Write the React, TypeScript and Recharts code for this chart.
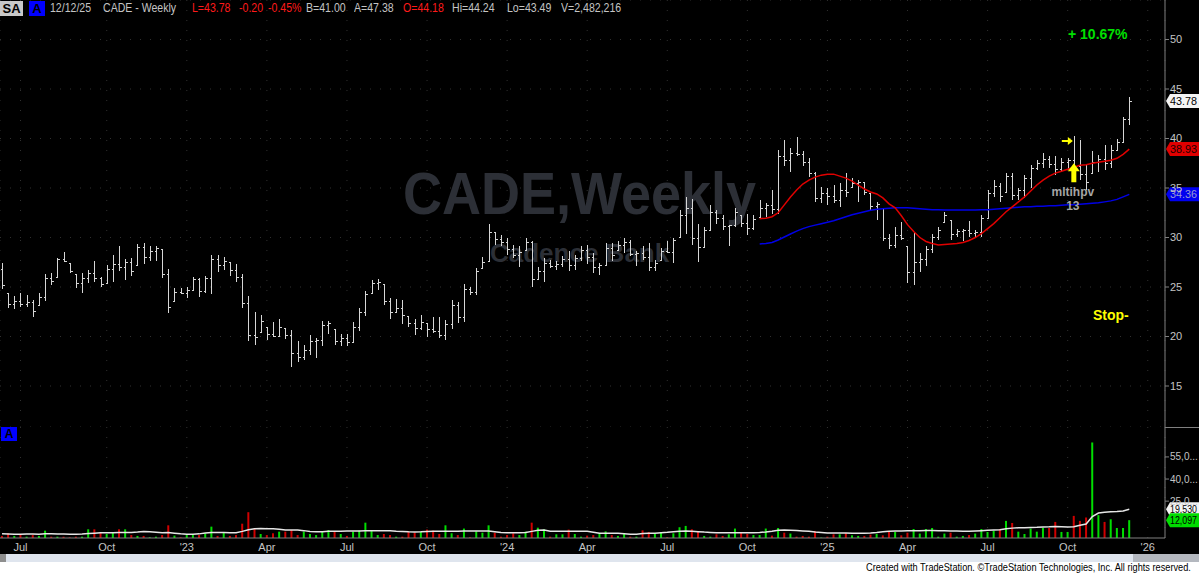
import React from "react";
import {
  ComposedChart,
  Bar,
  Line,
  XAxis,
  YAxis,
  CartesianGrid,
  ReferenceLine,
  ReferenceDot,
  Cell,
} from "recharts";

// weekly bars, 2022-06-10 .. 2025-12-12 (one entry per week)
const highs = [
  27.4, 24.4, 24.1, 24.4, 24.2, 23.7, 24.35, 26.3, 26.4, 27.9,
  28.5, 27.4, 26.3, 26.4, 26.7, 27.6, 26.05, 27.2, 28.2, 29.1,
  27.8, 27.9, 29.3, 29.4, 29.1, 29.1, 28.8, 26.8, 24.9, 24.9,
  25.0, 26.05, 25.9, 26.15, 28.2, 28.2, 28.0, 27.5, 27.3, 26.3,
  24.1, 22.5, 22.2, 21.0, 21.5, 21.8, 20.9, 20.7, 19.5, 19.1,
  20.2, 19.8, 21.6, 21.6, 20.8, 20.3, 20.3, 21.5, 22.9, 24.6,
  25.7, 25.8, 25.3, 23.9, 23.8, 23.7, 22.1, 21.8, 22.2, 21.4,
  22.0, 22.0, 21.7, 23.7, 23.5, 25.3, 25.0, 26.9, 28.0, 31.4,
  30.6, 30.3, 30.0, 29.2, 29.1, 29.9, 29.6, 27.0, 27.9, 27.7,
  27.6, 28.1, 28.6, 28.2, 29.1, 29.2, 28.4, 27.4, 29.4, 29.4,
  29.6, 29.9, 29.75, 28.6, 29.1, 29.4, 27.7, 28.9, 29.6, 29.9,
  32.8, 34.1, 33.9, 31.4, 31.1, 33.3, 32.8, 32.3, 31.3, 33.0,
  32.3, 32.4, 32.3, 33.8, 33.45, 34.8, 38.8, 39.85, 39.0, 40.2,
  38.7, 38.0, 36.65, 35.1, 35.0, 35.3, 35.5, 36.55, 36.0, 35.8,
  35.6, 34.5, 33.6, 33.0, 30.4, 31.1, 31.6, 29.1, 30.6, 28.4,
  29.1, 30.4, 31.1, 32.6, 31.8, 30.9, 30.9, 31.7, 30.8, 32.3,
  34.8, 35.8, 35.5, 36.55, 36.55, 35.0, 36.3, 37.3, 37.8, 38.5,
  38.2, 38.2, 38.0, 38.0, 40.25, 39.85, 37.3, 38.7, 38.3, 39.3,
  39.3, 40.0, 42.2, 44.24,
];

const lows = [
  24.8, 22.85, 22.75, 23.0, 22.95, 21.95, 23.15, 23.6, 25.2, 26.05,
  27.5, 26.4, 24.9, 24.4, 25.4, 25.5, 24.97, 25.4, 25.5, 26.65,
  25.7, 26.15, 27.2, 27.3, 27.6, 27.6, 25.9, 22.4, 23.6, 24.3,
  23.9, 24.7, 24.0, 24.4, 24.3, 26.5, 26.7, 26.15, 25.5, 22.9,
  19.5, 19.1, 20.5, 19.6, 20.0, 20.0, 19.7, 16.9, 17.4, 17.6,
  18.1, 17.8, 19.0, 20.3, 19.1, 19.0, 19.0, 19.4, 20.6, 22.1,
  24.4, 24.7, 23.2, 21.8, 22.4, 21.3, 21.0, 20.15, 20.7, 20.0,
  20.4, 19.8, 19.65, 20.8, 21.4, 21.5, 24.2, 24.2, 26.9, 27.6,
  29.2, 29.1, 28.2, 27.9, 27.0, 28.7, 25.0, 25.7, 25.5, 26.9,
  26.7, 27.0, 26.6, 26.7, 27.6, 27.3, 26.45, 26.2, 27.1, 27.6,
  28.7, 28.4, 28.1, 27.1, 27.7, 26.6, 26.6, 27.7, 28.4, 27.4,
  30.1, 30.4, 29.2, 27.5, 28.9, 30.8, 31.4, 30.8, 29.1, 31.1,
  31.1, 30.25, 30.8, 32.1, 32.1, 32.4, 32.4, 37.2, 36.65, 38.2,
  37.2, 36.15, 33.6, 33.45, 33.3, 33.45, 33.05, 34.1, 35.1, 33.6,
  34.3, 32.8, 31.8, 29.6, 28.8, 28.9, 29.75, 25.4, 25.2, 26.55,
  27.1, 28.4, 29.75, 31.6, 29.75, 30.1, 29.6, 30.1, 30.0, 30.1,
  31.9, 34.1, 33.6, 34.6, 33.8, 33.8, 34.0, 35.0, 36.8, 37.0,
  37.0, 36.3, 36.65, 36.8, 36.8, 35.8, 34.8, 36.5, 36.65, 36.8,
  37.0, 38.7, 39.5, 41.4,
];

const opens = [
  26.8, 24.4, 23.3, 23.6, 23.3, 23.5, 23.15, 24.0, 25.9, 26.05,
  27.8, 27.4, 26.3, 25.4, 25.9, 26.4, 25.9, 25.4, 26.8, 27.3,
  27.0, 27.5, 27.2, 29.0, 28.0, 28.6, 28.8, 26.3, 23.6, 24.5,
  24.4, 24.7, 25.8, 24.6, 25.9, 27.8, 27.2, 27.5, 26.7, 26.0,
  23.4, 20.2, 20.5, 21.0, 20.3, 20.1, 20.9, 20.2, 18.3, 17.9,
  18.6, 19.5, 19.6, 21.2, 20.8, 19.5, 19.8, 19.4, 21.0, 22.5,
  24.4, 25.4, 25.3, 23.6, 22.5, 22.9, 22.1, 21.4, 20.9, 21.4,
  20.8, 20.6, 20.2, 21.3, 23.2, 22.0, 24.8, 24.5, 26.9, 27.6,
  30.6, 29.8, 29.5, 28.8, 28.2, 28.7, 29.5, 25.8, 26.6, 27.4,
  27.1, 27.3, 27.8, 27.2, 27.9, 28.7, 28.0, 27.0, 27.2, 28.9,
  28.7, 29.2, 29.5, 28.3, 28.4, 28.0, 27.0, 27.7, 28.6, 28.5,
  30.1, 32.3, 33.0, 30.0, 29.0, 30.8, 32.6, 32.0, 31.2, 31.25,
  32.3, 31.5, 31.0, 32.1, 33.0, 33.3, 32.9, 38.2, 37.8, 38.5,
  38.4, 37.6, 36.5, 34.0, 34.5, 34.2, 33.8, 34.8, 35.1, 35.5,
  35.6, 34.5, 33.2, 33.0, 30.0, 29.2, 30.3, 29.1, 26.5, 27.5,
  27.8, 28.8, 30.1, 31.6, 31.8, 30.4, 30.7, 30.75, 30.5, 30.6,
  32.0, 34.5, 35.2, 34.6, 36.2, 34.3, 34.8, 36.0, 37.0, 37.5,
  37.9, 37.4, 36.9, 37.6, 37.8, 37.2, 36.4, 36.5, 37.6, 37.9,
  37.5, 38.8, 39.6, 42.0,
];

const closes = [
  25.2, 23.3, 23.6, 23.3, 23.5, 22.6, 24.0, 25.9, 25.6, 27.8,
  27.6, 26.6, 25.4, 25.9, 26.4, 25.9, 25.3, 26.8, 27.3, 27.0,
  27.5, 26.6, 29.0, 28.0, 28.6, 28.9, 26.3, 23.0, 24.5, 24.4,
  24.7, 25.8, 24.6, 25.9, 27.8, 27.2, 27.6, 26.7, 26.0, 23.4,
  20.2, 20.0, 21.6, 20.3, 20.1, 21.0, 20.2, 18.3, 17.9, 18.6,
  19.5, 19.6, 21.2, 21.4, 19.5, 19.8, 19.4, 21.0, 22.5, 24.3,
  25.4, 25.5, 23.6, 22.5, 22.9, 22.2, 21.4, 20.9, 21.5, 20.8,
  20.6, 20.2, 21.3, 23.2, 22.0, 24.8, 24.5, 26.6, 27.5, 30.6,
  29.8, 29.5, 28.8, 28.2, 28.5, 29.5, 25.8, 26.6, 27.4, 27.1,
  27.3, 27.8, 27.2, 27.9, 28.7, 28.0, 27.0, 27.2, 28.9, 28.2,
  29.2, 29.5, 28.3, 28.4, 28.0, 27.0, 27.4, 28.6, 28.5, 29.7,
  32.3, 33.0, 30.0, 29.0, 30.8, 32.6, 32.0, 31.2, 31.25, 32.6,
  31.5, 31.0, 31.9, 33.0, 33.3, 32.9, 38.2, 37.8, 38.5, 38.4,
  37.6, 36.5, 34.0, 34.5, 34.2, 33.8, 34.8, 34.6, 35.5, 35.6,
  34.6, 33.2, 33.4, 30.0, 29.2, 30.3, 30.0, 26.5, 27.5, 27.8,
  28.8, 30.1, 30.8, 32.3, 30.4, 30.7, 30.75, 30.5, 30.6, 32.0,
  34.5, 35.2, 34.2, 36.2, 34.3, 34.8, 36.0, 37.0, 37.5, 37.9,
  37.4, 36.9, 37.6, 37.8, 37.2, 36.4, 35.6, 37.6, 37.9, 37.5,
  38.8, 39.6, 42.0, 43.78,
];

// moving averages are only plotted from this bar onwards
const MA_START = 123;
const maFast = [
  31.9, 31.95, 32.1, 32.5, 33.3, 34.1, 34.8, 35.4, 35.8, 36.1,
  36.3, 36.4, 36.4, 36.2, 36.0, 35.7, 35.3, 34.9, 34.6, 34.4,
  34.0, 33.4, 33.0, 32.2, 31.3, 30.6, 30.0, 29.6, 29.4, 29.25,
  29.3, 29.35, 29.4, 29.5, 29.7, 30.0, 30.4, 30.9, 31.4, 32.0,
  32.6, 33.1, 33.6, 34.1, 34.7, 35.3, 35.8, 36.2, 36.5, 36.7,
  36.9, 37.1, 37.3, 37.35, 37.5, 37.6, 37.7, 37.8, 38.0, 38.4,
  38.93,
];
const maSlow = [
  29.35, 29.4, 29.5, 29.75, 30.05, 30.35, 30.65, 30.9, 31.1, 31.25,
  31.4, 31.55, 31.7, 31.9, 32.1, 32.3, 32.45, 32.6, 32.75, 32.85,
  32.9, 32.95, 33.0, 33.0, 33.0, 32.95, 32.9, 32.85, 32.8, 32.8,
  32.78, 32.78, 32.78, 32.78, 32.78, 32.78, 32.8, 32.8, 32.85, 32.9,
  32.95, 33.0, 33.05, 33.1, 33.1, 33.15, 33.15, 33.2, 33.2, 33.25,
  33.3, 33.3, 33.35, 33.4, 33.45, 33.5, 33.6, 33.7, 33.85, 34.1,
  34.36,
];

// volume in thousands of shares
const volume = [
  1.4, 3.2, 1.4, 2.7, 0.9, 2.0, 1.4, 5.0, 0.9, 0.9,
  0.9, 0.4, 0.9, 0.9, 5.9, 5.9, 3.6, 2.7, 3.6, 5.9,
  5.9, 2.0, 1.4, 1.4, 0.5, 0.9, 2.0, 8.6, 1.6, 0.5,
  2.0, 2.0, 2.0, 3.2, 7.7, 1.4, 3.8, 1.4, 2.0, 9.7,
  17.5, 6.5, 2.7, 2.0, 3.2, 4.3, 4.3, 5.4, 2.0, 4.3,
  2.7, 2.0, 4.3, 5.4, 4.3, 2.7, 1.4, 4.3, 5.0, 10.4,
  5.4, 2.0, 2.7, 2.0, 0.9, 0.9, 4.3, 3.6, 4.3, 5.7,
  5.0, 2.7, 8.6, 3.2, 2.0, 6.4, 0.5, 4.5, 3.6, 8.6,
  3.6, 0.9, 2.0, 3.2, 2.0, 4.3, 10.4, 7.0, 5.9, 0.9,
  2.5, 2.5, 5.7, 2.7, 0.9, 1.6, 2.0, 3.2, 4.5, 2.0,
  1.4, 3.2, 0.9, 0.9, 5.2, 4.1, 3.2, 3.8, 0.5, 3.2,
  7.3, 8.2, 5.9, 4.3, 1.4, 0.9, 2.5, 1.4, 2.5, 6.4,
  3.6, 2.7, 2.0, 2.0, 6.4, 1.6, 6.8, 3.6, 3.0, 0.9,
  1.4, 0.9, 4.8, 0.3, 0.9, 2.5, 2.5, 3.4, 1.8, 1.4,
  1.4, 2.3, 2.7, 1.8, 4.5, 4.1, 1.8, 3.6, 6.1, 3.0,
  6.1, 6.8, 0.9, 3.0, 3.6, 0.9, 1.4, 2.0, 3.0, 6.1,
  4.1, 4.8, 6.1, 11.6, 10.2, 4.3, 2.7, 6.4, 4.3, 6.8,
  6.8, 10.9, 4.1, 4.1, 15.0, 11.6, 13.9, 64.8, 15.5, 10.9,
  12.7, 6.8, 6.8, 12.097,
];

const volAvg = [
  2.8, 2.7, 2.6, 2.6, 2.7, 2.7, 2.6, 2.8, 2.8, 2.7,
  2.7, 2.6, 2.6, 2.7, 3.0, 3.3, 3.5, 3.6, 3.6, 3.7,
  3.8, 3.8, 4.0, 4.4, 4.2, 3.9, 3.6, 3.7, 3.3, 2.9,
  2.6, 2.6, 2.8, 3.4, 3.8, 3.8, 3.7, 3.6, 3.6, 4.5,
  5.6, 6.2, 6.4, 6.3, 6.2, 6.0, 5.5, 5.4, 5.4, 5.0,
  4.4, 4.2, 4.3, 4.5, 4.6, 4.6, 4.7, 4.7, 4.8, 4.9,
  5.0, 5.0, 5.0, 4.9, 4.6, 4.4, 4.2, 4.1, 4.2, 4.4,
  4.5, 4.5, 4.5, 4.5, 4.6, 4.7, 4.7, 4.8, 4.8, 4.8,
  4.3, 3.7, 3.6, 3.6, 3.6, 3.7, 4.5, 5.2, 5.4, 4.6,
  4.5, 4.5, 4.5, 4.5, 4.5, 4.5, 3.9, 3.3, 3.2, 3.2,
  3.2, 2.9, 2.6, 2.6, 3.0, 3.2, 3.3, 3.6, 3.9, 4.3,
  4.6, 4.8, 4.6, 4.3, 4.0, 3.8, 3.6, 3.6, 3.6, 3.6,
  3.6, 3.6, 3.6, 3.8, 4.1, 4.6, 5.2, 5.4, 5.3, 5.1,
  4.8, 4.5, 4.1, 3.8, 3.4, 3.4, 3.4, 3.4, 3.3, 3.3,
  3.3, 3.4, 3.8, 4.3, 4.6, 4.7, 4.8, 4.9, 5.0, 5.0,
  5.1, 5.1, 5.0, 4.9, 4.8, 4.7, 4.6, 4.6, 4.8, 5.0,
  5.2, 5.4, 5.6, 6.2, 6.7, 6.9, 7.0, 7.2, 7.3, 7.5,
  7.6, 7.8, 7.6, 7.4, 7.6, 8.6, 9.5, 14.5, 16.9, 17.5,
  17.8, 18.0, 18.3, 19.53,
];

const monthTicks = [3, 17, 30, 43, 56, 69, 82, 95, 108, 121, 134, 147, 160, 173, 186];
const monthLabels = ["Jul", "Oct", "'23", "Apr", "Jul", "Oct", "'24", "Apr", "Jul", "Oct", "'25", "Apr", "Jul", "Oct", "'26"];
const priceTicks = [15, 20, 25, 30, 35, 40, 45, 50];
const volumeTicks = [25, 40, 55];

const X_DOMAIN: [number, number] = [-0.33, 188.8];
const AXIS_GRAY = "#c4c4c4";
const FONT = "'Liberation Sans', Arial, sans-serif";

const rows = highs.map((h, i) => ({
  i,
  high: h,
  low: lows[i],
  open: opens[i],
  close: closes[i],
  hl: [lows[i], h],
  fast: i >= MA_START ? maFast[i - MA_START] : null,
  slow: i >= MA_START ? maSlow[i - MA_START] : null,
}));

const volRows = volume.map((v, i) => ({
  i,
  vol: v,
  avg: volAvg[i],
  up: i === 0 ? closes[0] > opens[0] : closes[i] > closes[i - 1],
}));

const tickLabel = (v: number) => {
  const k = monthTicks.indexOf(v);
  return k >= 0 ? monthLabels[k] : "";
};

function OhlcShape(props: any) {
  const { x, y, width, height, payload } = props;
  if (x == null || y == null || height == null) return null;
  const top = Math.min(y, y + height);
  const h = Math.abs(height);
  const cx = Math.round(x + width / 2) + 0.5;
  const span = payload.high - payload.low || 1;
  const yo = Math.round(top + ((payload.high - payload.open) / span) * h) + 0.5;
  const yc = Math.round(top + ((payload.high - payload.close) / span) * h) + 0.5;
  return (
    <g stroke="#d6d6d6" strokeWidth={1} shapeRendering="crispEdges">
      <line x1={cx} x2={cx} y1={top} y2={top + h} />
      <line x1={cx - 2} x2={cx} y1={yo} y2={yo} />
      <line x1={cx} x2={cx + 2} y1={yc} y2={yc} />
    </g>
  );
}

function priceTag(text: string, bg: string, fg: string) {
  return (p: any) => {
    const vb = p.viewBox || {};
    const yy = vb.y;
    const x0 = vb.x + vb.width + 1;
    return (
      <g>
        <path d={`M${x0} ${yy} L${x0 + 4} ${yy - 7} H${x0 + 33} V${yy + 7} H${x0 + 4} Z`} fill={bg} />
        <text
          x={x0 + 4}
          y={yy + 4}
          fontSize={10.5}
          fontFamily={FONT}
          fill={fg}
          textLength={27}
          lengthAdjust="spacingAndGlyphs"
        >
          {text}
        </text>
      </g>
    );
  };
}

function UpArrow(p: any) {
  const { cx, cy } = p;
  if (cx == null) return null;
  return (
    <g>
      <path
        d={`M${cx} ${cy} L${cx + 6} ${cy + 8} H${cx + 2.5} V${cy + 19} H${cx - 2.5} V${cy + 8} H${cx - 6} Z`}
        fill="#ffff00"
      />
      <text x={cx - 1} y={cy + 33} textAnchor="middle" fontSize={12} fontWeight="bold" fontFamily={FONT} fill="#a6a6a6">
        mltihpv
      </text>
      <text x={cx - 1} y={cy + 47} textAnchor="middle" fontSize={12} fontWeight="bold" fontFamily={FONT} fill="#a6a6a6">
        13
      </text>
    </g>
  );
}

function RightArrow(p: any) {
  const { cx, cy } = p;
  if (cx == null) return null;
  const tip = cx - 1;
  return (
    <path
      d={`M${tip} ${cy} L${tip - 5} ${cy - 4} V${cy - 1} H${tip - 11} V${cy + 1} H${tip - 5} V${cy + 4} Z`}
      fill="#ffff00"
    />
  );
}

const abs = (left: number, top: number, extra: React.CSSProperties = {}): React.CSSProperties => ({
  position: "absolute",
  left,
  top,
  whiteSpace: "nowrap",
  fontFamily: FONT,
  ...extra,
});

// header item, slightly condensed like the TradeStation status line
const head = (left: number, color: string): React.CSSProperties =>
  abs(left, 1, { fontSize: 12, color, lineHeight: "15px", transform: "scaleX(0.88)", transformOrigin: "left top" });

export default function App() {
  return (
    <div style={{ position: "absolute", left: 0, top: 0, width: 1199, height: 574, background: "#000", overflow: "hidden" }}>
      {/* watermark */}
      <div style={abs(403, 160, { fontSize: 60, fontWeight: "bold", color: "#2c2f36", transform: "scaleX(0.9)", transformOrigin: "left top", lineHeight: "68px" })}>
        CADE,Weekly
      </div>
      <div style={abs(490, 238, { fontSize: 26, fontWeight: "bold", color: "#2c2f36", lineHeight: "30px" })}>Cadence Bank</div>

      {/* price panel */}
      <div style={{ position: "absolute", left: 0, top: 0 }}>
        <ComposedChart width={1199} height={427} data={rows} margin={{ top: 0, right: 0, bottom: 0, left: 0 }}>
          <CartesianGrid stroke="#303030" strokeDasharray="1 9" />
          <XAxis dataKey="i" type="number" domain={X_DOMAIN} ticks={monthTicks} allowDataOverflow hide />
          <YAxis
            orientation="right"
            width={34}
            domain={[10.86, 53.99]}
            ticks={priceTicks}
            allowDataOverflow
            axisLine={{ stroke: "#808080" }}
            tickLine={{ stroke: "#808080" }}
            tickSize={4}
            tickMargin={1}
            tick={{ fill: AXIS_GRAY, fontSize: 11, fontFamily: FONT }}
          />
          <Bar dataKey="hl" barSize={4} shape={<OhlcShape />} isAnimationActive={false} />
          <Line dataKey="slow" stroke="#0000e6" strokeWidth={1.5} dot={false} isAnimationActive={false} />
          <Line dataKey="fast" stroke="#e00000" strokeWidth={1.5} dot={false} isAnimationActive={false} />
          <ReferenceLine y={43.78} stroke="none" label={priceTag("43.78", "#f4f4f4", "#000")} />
          <ReferenceLine y={38.93} stroke="none" label={priceTag("38.93", "#e00000", "#200000")} />
          <ReferenceLine y={34.36} stroke="none" label={priceTag("34.36", "#0000f0", "#9a9ad0")} />
          <ReferenceDot x={174} y={37.5} r={0} shape={<UpArrow />} />
          <ReferenceDot x={174} y={39.75} r={0} shape={<RightArrow />} />
        </ComposedChart>
      </div>

      {/* volume panel */}
      <div style={{ position: "absolute", left: 0, top: 427 }}>
        <ComposedChart width={1199} height={135} data={volRows} margin={{ top: 0, right: 0, bottom: 0, left: 0 }}>
          <CartesianGrid stroke="#303030" strokeDasharray="1 9" horizontal={false} />
          <XAxis
            dataKey="i"
            type="number"
            domain={X_DOMAIN}
            ticks={monthTicks}
            allowDataOverflow
            tickFormatter={tickLabel}
            height={24}
            axisLine={{ stroke: "#808080" }}
            tickLine={false}
            tickSize={0}
            tickMargin={5}
            tick={{ fill: AXIS_GRAY, fontSize: 11, fontFamily: FONT }}
          />
          <YAxis
            orientation="right"
            width={34}
            domain={[0, 75.3]}
            ticks={volumeTicks}
            allowDataOverflow
            tickFormatter={(v: number) => `${v},0...`}
            axisLine={{ stroke: "#808080" }}
            tickLine={{ stroke: "#808080" }}
            tickSize={4}
            tickMargin={1}
            tick={{ fill: AXIS_GRAY, fontSize: 10, fontFamily: FONT, textAnchor: "start" }}
          />
          <Bar dataKey="vol" barSize={2} isAnimationActive={false}>
            {volRows.map((r) => (
              <Cell key={r.i} fill={r.up ? "#00dd00" : "#d00000"} />
            ))}
          </Bar>
          <Line dataKey="avg" stroke="#e6e6e6" strokeWidth={1.5} dot={false} isAnimationActive={false} />
          <ReferenceLine y={19.53} stroke="none" label={priceTag("19,530", "#f4f4f4", "#000")} />
          <ReferenceLine y={12.097} stroke="none" label={priceTag("12,097", "#00dd00", "#000")} />
        </ComposedChart>
      </div>

      {/* panel separator on the axis */}
      <div style={{ position: "absolute", left: 1165, top: 427, width: 34, height: 1, background: "#808080" }} />

      {/* header */}
      <div style={abs(0, 1, { width: 23, height: 15, background: "#c8c8c8", color: "#000", fontSize: 13, fontWeight: "bold", textAlign: "center", lineHeight: "15px" })}>SA</div>
      <div style={abs(29, 1, { width: 16, height: 15, background: "#0000ff", color: "#000", fontSize: 13, fontWeight: "bold", textAlign: "center", lineHeight: "15px" })}>A</div>
      <div style={head(50, AXIS_GRAY)}>12/12/25</div>
      <div style={head(103, AXIS_GRAY)}>CADE - Weekly</div>
      <div style={head(192, "#ff1a1a")}>L=43.78</div>
      <div style={head(239, "#ff1a1a")}>-0.20</div>
      <div style={head(268, "#ff1a1a")}>-0.45%</div>
      <div style={head(306, AXIS_GRAY)}>B=41.00</div>
      <div style={head(354, AXIS_GRAY)}>A=47.38</div>
      <div style={head(403, "#ff1a1a")}>O=44.18</div>
      <div style={head(452, AXIS_GRAY)}>Hi=44.24</div>
      <div style={head(507, AXIS_GRAY)}>Lo=43.49</div>
      <div style={head(561, AXIS_GRAY)}>V=2,482,216</div>

      {/* study labels */}
      <div style={abs(1068, 26, { fontSize: 14, fontWeight: "bold", color: "#00e000" })}>+ 10.67%</div>
      <div style={abs(1093, 307, { fontSize: 14, fontWeight: "bold", color: "#ffff00" })}>Stop-</div>
      <div style={abs(1, 427, { width: 16, height: 14, background: "#0000ff", color: "#000", fontSize: 12, fontWeight: "bold", textAlign: "center", lineHeight: "14px" })}>A</div>

      {/* scroll bar and footer */}
      <div style={{ position: "absolute", left: 0, top: 554, width: 1199, height: 8, background: "#dfe5ee" }} />
      <div style={{ position: "absolute", left: 0, top: 554, width: 6, height: 8, background: "#8e8e8e" }} />
      <div style={{ position: "absolute", left: 1133, top: 554, width: 66, height: 8, background: "#b4b8bf" }} />
      <div style={{ position: "absolute", left: 0, top: 562, width: 1199, height: 12, background: "#fff" }} />
      <div style={abs(866, 562, { fontSize: 10, color: "#000", lineHeight: "12px", transform: "scaleX(0.92)", transformOrigin: "left top" })}>
        Created with TradeStation. ©TradeStation Technologies, Inc. All rights reserved.
      </div>
    </div>
  );
}
